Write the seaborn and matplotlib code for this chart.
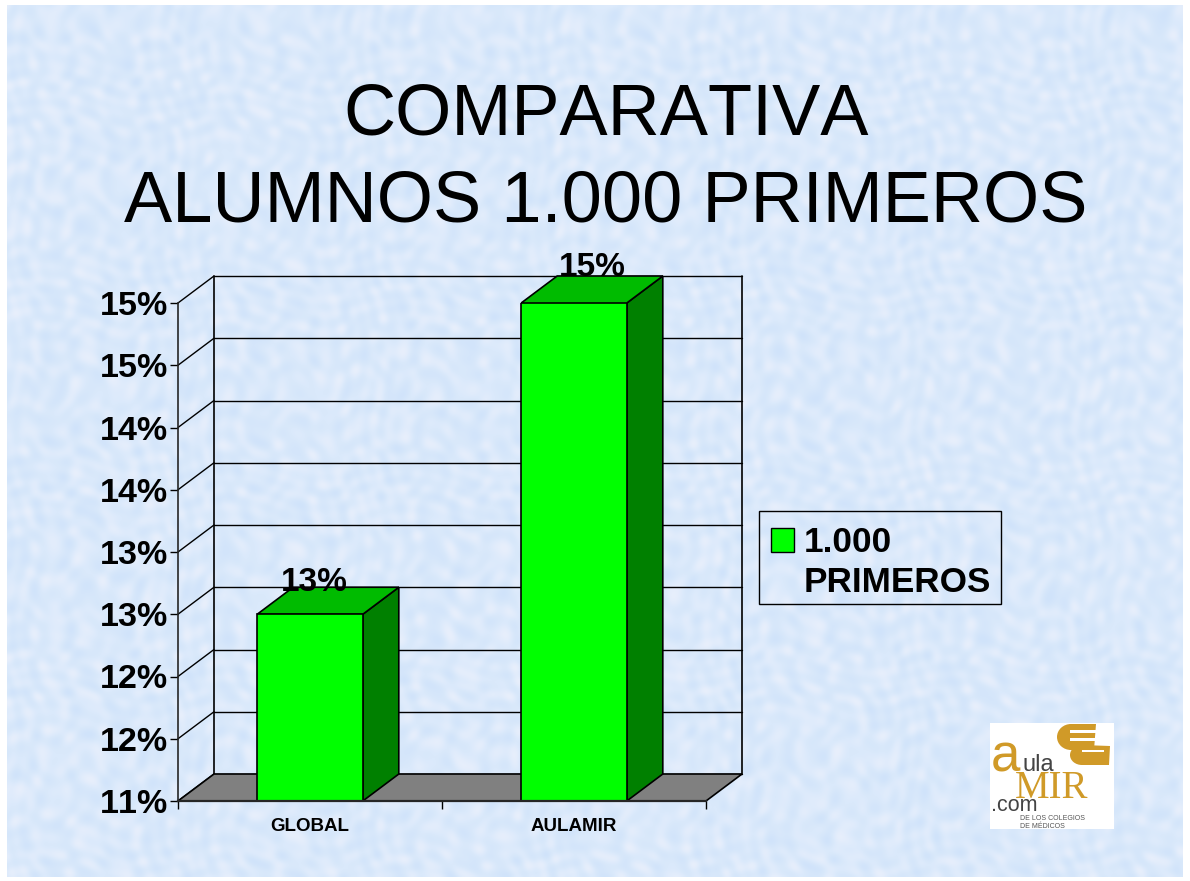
import numpy as np
import pandas as pd
import seaborn as sns
import matplotlib.pyplot as plt
from matplotlib.colors import LinearSegmentedColormap
from matplotlib.patches import Patch, Rectangle, Polygon, Ellipse

sns.set_style('white')
plt.rcParams['font.family'] = ['Liberation Sans', 'DejaVu Sans']
plt.rcParams['text.color'] = 'black'
plt.rcParams['xtick.color'] = 'black'
plt.rcParams['ytick.color'] = 'black'
plt.rcParams['text.kerning_factor'] = 6

# Data
categories = ['GLOBAL', 'AULAMIR']
values = [12.5, 15.0]
value_labels = ['13%', '15%']
y_ticks = [11, 11.5, 12, 12.5, 13, 13.5, 14, 14.5, 15]
y_tick_labels = ['11%', '12%', '12%', '13%', '13%', '14%', '14%', '15%', '15%']
series_name = '1.000 PRIMEROS'
title = 'COMPARATIVA\nALUMNOS 1.000 PRIMEROS'

W, H = 1190, 881
GREEN = '#00ff00'
GREEN_TOP = '#00bb00'
GREEN_SIDE = '#008000'
OCHRE = '#d09a28'

fig = plt.figure(figsize=(W / 100, H / 100), dpi=100, facecolor='white')

# Page layer in pixel coordinates, with a soft mottled slide background
page = fig.add_axes([0, 0, 1, 1], zorder=0)
gx, gy = np.meshgrid(np.arange(7, 1183, 2), np.arange(5, 877, 2))
mottle = (np.sin(gx / 17 + np.sin(gy / 13) * 3) * np.sin(gy / 15 + np.sin(gx / 11) * 3)
          + 0.7 * np.sin((gx + gy) / 7 + np.sin(gx / 29) * 4) * np.sin((gx - gy) / 6 + np.sin(gy / 31) * 4))
paper = LinearSegmentedColormap.from_list('paper', ['#d0e3fa', '#dae9fb', '#e8effc'])
page.imshow(mottle, cmap=paper, extent=(7, 1183, 877, 5), aspect='auto', interpolation='bilinear')
page.set_xlim(0, W)
page.set_ylim(H, 0)
page.axis('off')
page.text(606, 159.5, title, fontsize=52, ha='center', va='center', linespacing=1.375)

# Logo
page.add_patch(Rectangle((990, 723), 124, 106, facecolor='white', edgecolor='none'))
page.add_patch(Ellipse((1071, 737), 28, 26, facecolor=OCHRE, edgecolor='none'))
page.add_patch(Polygon([(1071, 724), (1096, 724), (1094, 750), (1071, 750)], facecolor=OCHRE, edgecolor='none'))
page.add_patch(Rectangle((1070, 730), 26, 3, facecolor='white', edgecolor='none'))
page.add_patch(Rectangle((1070, 738), 26, 3, facecolor='white', edgecolor='none'))
page.add_patch(Ellipse((1082, 755), 24, 20, facecolor=OCHRE, edgecolor='none'))
page.add_patch(Polygon([(1082, 745), (1110, 746), (1109, 765), (1082, 765)], facecolor=OCHRE, edgecolor='none'))
page.add_patch(Rectangle((1082, 750), 22, 2, facecolor='white', edgecolor='none'))
page.text(991, 771, 'a', fontsize=38, color=OCHRE, va='baseline')
page.text(1023, 771, 'ula', fontsize=17, color='#444444', va='baseline')
page.text(1015, 798, 'MIR', fontsize=28, family='Liberation Serif', color=OCHRE, va='baseline')
page.text(991, 811, '.com', fontsize=15.5, color='#444444', va='baseline')
page.text(1020, 820, 'DE LOS COLEGIOS', fontsize=5, color='#555555', va='baseline')
page.text(1020, 828, 'DE MÉDICOS', fontsize=5, color='#555555', va='baseline')

# Legend frame
page.add_patch(Rectangle((759, 511), 242, 93, fill=False, edgecolor='black', linewidth=1))

# Chart, front plane of the 3D box
ax = fig.add_axes([178 / W, 1 - 801 / H, 528 / W, 498 / H], zorder=1)
ax.patch.set_alpha(0)

df = pd.DataFrame({'Grupo': categories, 'Valor': values})
sns.barplot(data=df, x='Grupo', y='Valor', color=GREEN, saturation=1, width=0.4,
            edgecolor='black', linewidth=1.2, zorder=4, ax=ax)
ax.set_xlim(-0.5, 1.5)
ax.set_ylim(y_ticks[0], y_ticks[-1])

# Depth of the box in data units
px_x = 1 / 264
px_y = (y_ticks[-1] - y_ticks[0]) / 498
dx = 36 * px_x
dy = 27 * px_y
x0, x1 = ax.get_xlim()

# Floor and walls
ax.add_patch(Polygon([(x0, y_ticks[0]), (x0 + dx, y_ticks[0] + dy), (x1 + dx, y_ticks[0] + dy), (x1, y_ticks[0])],
                     facecolor='#808080', edgecolor='black', linewidth=1.2, clip_on=False, zorder=2))
for t in y_ticks:
    ax.plot([x0, x0 + dx], [t, t + dy], color='black', lw=1, clip_on=False, zorder=1)
    ax.plot([x0 + dx, x1 + dx], [t + dy, t + dy], color='black', lw=1, clip_on=False, zorder=1)
ax.plot([x0 + dx, x0 + dx], [y_ticks[0] + dy, y_ticks[-1] + dy], color='black', lw=1.2, clip_on=False, zorder=1)
ax.plot([x1 + dx, x1 + dx], [y_ticks[0] + dy, y_ticks[-1] + dy], color='black', lw=1.2, clip_on=False, zorder=1)

# Bar side and top faces, plus the labels (the slide sets them off-centre by different amounts)
label_shift_x = [4, 18]
label_shift_y = [5, 8]
for bar, val, lab, sx, sy in zip(ax.patches, values, value_labels, label_shift_x, label_shift_y):
    left = bar.get_x()
    right = left + bar.get_width()
    ax.add_patch(Polygon([(right, y_ticks[0]), (right + dx, y_ticks[0] + dy), (right + dx, val + dy), (right, val)],
                         facecolor=GREEN_SIDE, edgecolor='black', linewidth=1.2, clip_on=False, zorder=3))
    ax.add_patch(Polygon([(left, val), (left + dx, val + dy), (right + dx, val + dy), (right, val)],
                         facecolor=GREEN_TOP, edgecolor='black', linewidth=1.2, clip_on=False, zorder=3))
    ax.text((left + right) / 2 + sx * px_x, val + dy + sy * px_y, lab, fontsize=24, fontweight='bold',
            ha='center', va='center', zorder=5, clip_on=False)

# Axes
sns.despine(ax=ax, top=True, right=True)
ax.spines['left'].set_linewidth(1.2)
ax.spines['bottom'].set_linewidth(1.6)
ax.spines['left'].set_zorder(6)
ax.spines['bottom'].set_zorder(6)
ax.set_xlabel('')
ax.set_ylabel('')
ax.set_yticks(y_ticks, y_tick_labels, fontsize=24.5, fontweight='bold')
ax.set_xticks([0, 1], categories, fontsize=13.5, fontweight='bold')
ax.set_xticks([-0.5, 0.5, 1.5], minor=True)
ax.tick_params(axis='y', which='major', left=True, length=6, width=1, pad=1)
ax.tick_params(axis='x', which='major', bottom=False, length=0, pad=12)
ax.tick_params(axis='x', which='minor', bottom=True, length=6, width=1)

# Legend split over two rows so the swatch sits on the first line
first, second = series_name.split(' ')
handles = [Patch(facecolor=GREEN, edgecolor='black', linewidth=1),
           Patch(facecolor='none', edgecolor='none')]
leg = fig.legend(handles, [first, second], loc='upper left',
                 bbox_to_anchor=(759 / W, 1 - 514 / H), bbox_transform=fig.transFigure,
                 prop={'size': 25.3, 'weight': 'bold', 'family': 'Liberation Sans'},
                 frameon=False, handlelength=0.64, handleheight=0.64, handletextpad=0.27,
                 borderaxespad=0, borderpad=0.35, labelspacing=0.2)

fig.savefig('out.png', dpi=100, facecolor=fig.get_facecolor())
